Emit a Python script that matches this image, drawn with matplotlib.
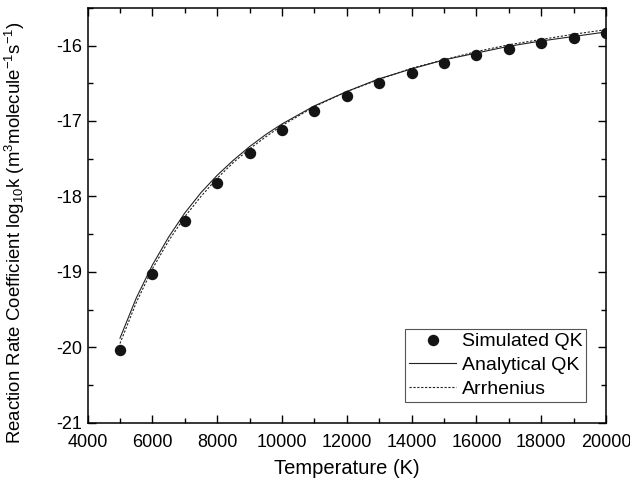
import matplotlib
matplotlib.use("Agg")
import matplotlib.pyplot as plt
from matplotlib.ticker import MultipleLocator

plt.rcParams['font.family'] = ['Liberation Sans', 'DejaVu Sans']
plt.rcParams['mathtext.fontset'] = 'custom'
plt.rcParams['mathtext.rm'] = 'Liberation Sans'
plt.rcParams['mathtext.it'] = 'Liberation Sans'
plt.rcParams['axes.unicode_minus'] = False

# Simulated QK rate coefficients (log10 k) at each temperature
sim_T = [5000, 6000, 7000, 8000, 9000, 10000, 11000, 12000, 13000,
         14000, 15000, 16000, 17000, 18000, 19000, 20000]
sim_logk = [-20.03, -19.03, -18.33, -17.82, -17.42, -17.12, -16.87, -16.67,
            -16.50, -16.36, -16.23, -16.13, -16.04, -15.97, -15.90, -15.84]

# Analytical QK and Arrhenius curves
curve_T = [5000, 5500, 6000, 6500, 7000, 7500, 8000, 8500, 9000, 9500, 10000,
           11000, 12000, 13000, 14000, 15000, 16000, 17000, 18000, 19000, 20000]
analytical_logk = [-19.88, -19.35, -18.91, -18.54, -18.22, -17.95, -17.72,
                   -17.52, -17.34, -17.18, -17.04, -16.80, -16.61, -16.44,
                   -16.31, -16.19, -16.10, -16.01, -15.94, -15.88, -15.82]
arrhenius_logk = [-19.95, -19.41, -18.96, -18.59, -18.27, -18.00, -17.76,
                  -17.55, -17.37, -17.21, -17.06, -16.81, -16.61, -16.45,
                  -16.30, -16.19, -16.08, -15.99, -15.92, -15.85, -15.79]

fig = plt.figure(figsize=(6.3, 4.87), dpi=100)
ax = fig.add_axes([0.139, 0.132, 0.823, 0.852])

ax.plot(sim_T, sim_logk, 'o', color='#141414', markersize=7.2,
        label='Simulated QK', zorder=3)
ax.plot(curve_T, analytical_logk, '-', color='#222222', linewidth=0.8,
        label='Analytical QK')
ax.plot(curve_T, arrhenius_logk, color='#222222', linewidth=0.8,
        linestyle=(0, (2, 1.5)), label='Arrhenius')

ax.set_xlim(4000, 20000)
ax.set_ylim(-21, -15.5)
ax.xaxis.set_major_locator(MultipleLocator(2000))
ax.xaxis.set_minor_locator(MultipleLocator(1000))
ax.yaxis.set_major_locator(MultipleLocator(1))
ax.yaxis.set_minor_locator(MultipleLocator(0.5))
ax.tick_params(which='both', direction='in', top=True, right=True,
               labelsize=13, width=1)
ax.tick_params(which='major', length=6)
ax.tick_params(which='minor', length=3.5)
ax.tick_params(axis='x', which='major', pad=8)
ax.tick_params(axis='y', which='major', pad=4)
for s in ax.spines.values():
    s.set_linewidth(1.1)

ax.set_xlabel('Temperature (K)', fontsize=14.5, labelpad=6)
ax.set_ylabel('Reaction Rate Coefficient log$_{10}$k '
              '(m$^3$molecule$^{-1}$s$^{-1}$)', fontsize=13.4)
ax.yaxis.set_label_coords(-0.117, 0.458)

leg = ax.legend(loc='lower right', bbox_to_anchor=(0.962, 0.05), fontsize=14,
                frameon=True, fancybox=False, framealpha=1, edgecolor='#555555',
                borderpad=0.2, labelspacing=0.32, handlelength=2.4,
                handletextpad=0.3, borderaxespad=0)
leg.get_frame().set_linewidth(0.8)

fig.savefig('out.png', dpi=100)
